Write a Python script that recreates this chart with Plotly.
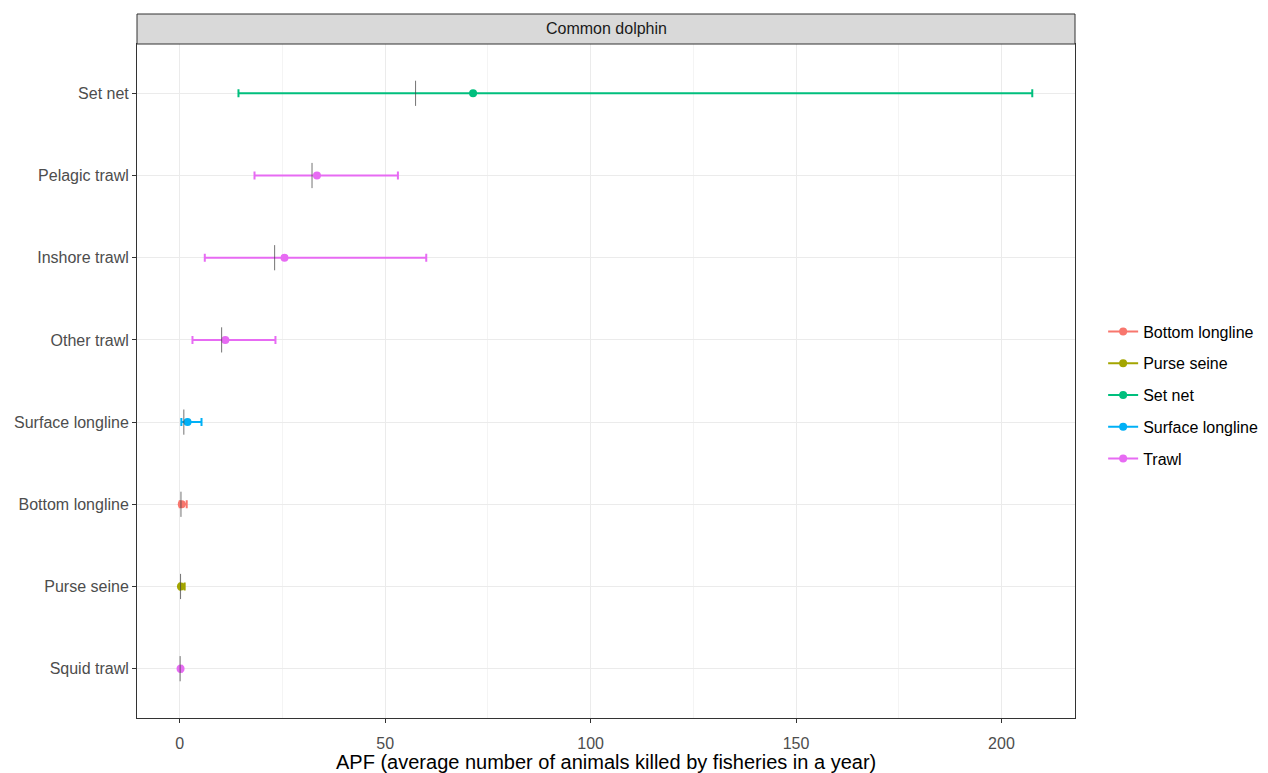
import plotly.graph_objects as go

fishery = ["Set net", "Pelagic trawl", "Inshore trawl", "Other trawl",
           "Surface longline", "Bottom longline", "Purse seine", "Squid trawl"]
gear = ["Set net", "Trawl", "Trawl", "Trawl",
        "Surface longline", "Bottom longline", "Purse seine", "Trawl"]
apf_mean = [71.4, 33.4, 25.5, 11.1, 1.9, 0.5, 0.3, 0.2]
apf_median = [57.4, 32.2, 23.1, 10.2, 1.0, 0.3, 0.2, 0.1]
apf_lower = [14.3, 18.2, 6.1, 3.1, 0.4, 0.0, 0.0, 0.0]
apf_upper = [207.5, 53.1, 60.0, 23.3, 5.3, 1.7, 1.2, 0.5]

gear_levels = ["Bottom longline", "Purse seine", "Set net", "Surface longline", "Trawl"]
gear_colors = {"Bottom longline": "#F8766D", "Purse seine": "#A3A500",
               "Set net": "#00BF7D", "Surface longline": "#00B0F6", "Trawl": "#E76BF3"}

y_order = list(reversed(fishery))  # bottom to top

fig = go.Figure()

for g in gear_levels:
    idx = [i for i, gg in enumerate(gear) if gg == g]
    xs = [apf_mean[i] for i in idx]
    ys = [fishery[i] for i in idx]
    plus = [apf_upper[i] - apf_mean[i] for i in idx]
    minus = [apf_mean[i] - apf_lower[i] for i in idx]
    c = gear_colors[g]
    fig.add_trace(go.Scatter(
        x=xs, y=ys, mode="markers", name=g, legendgroup=g, showlegend=False,
        marker=dict(color=c, size=8),
        error_x=dict(type="data", symmetric=False, array=plus, arrayminus=minus,
                     color=c, thickness=2, width=4),
    ))
    # legend entry: line + point
    fig.add_trace(go.Scatter(
        x=[None], y=[None], mode="lines+markers", name=g, legendgroup=g,
        line=dict(color=c, width=2), marker=dict(color=c, size=8),
    ))

# median ticks
fig.add_trace(go.Scatter(
    x=apf_median, y=fishery, mode="markers", showlegend=False, hoverinfo="skip",
    marker=dict(symbol="line-ns", size=18,
                line=dict(color="rgba(70,70,70,0.75)", width=1)),
))

axis_font = dict(family="Liberation Sans, Arial, sans-serif", size=16, color="#4D4D4D")
plot_h = 674

fig.update_layout(
    width=1268, height=773,
    margin=dict(l=129, r=201, t=36, b=63, autoexpand=False),
    paper_bgcolor="white", plot_bgcolor="white",
    font=dict(family="Liberation Sans, Arial, sans-serif", size=16, color="black"),
    showlegend=True,
    legend=dict(x=1.03, y=0.5 - 14 / plot_h, xanchor="left", yanchor="middle",
                font=dict(size=16, color="black"), tracegroupgap=8,
                itemwidth=30, bgcolor="rgba(0,0,0,0)"),
    xaxis=dict(
        range=[-10.4, 217.9], tickvals=[0, 50, 100, 150, 200],
        ticktext=["0", "50", "100", "150", "200"],
        showgrid=True, gridcolor="#EBEBEB", gridwidth=1,
        minor=dict(tickvals=[25, 75, 125, 175], showgrid=True,
                   gridcolor="#F4F4F4", gridwidth=0.6),
        zeroline=False, showline=True, linecolor="#333333", linewidth=1, mirror=True,
        ticks="outside", ticklen=4, tickcolor="#333333", tickfont=axis_font,
        ticklabelstandoff=7, automargin=False,
    ),
    yaxis=dict(
        type="category", categoryorder="array", categoryarray=y_order,
        range=[-0.6, 7.6],
        showgrid=True, gridcolor="#EBEBEB", gridwidth=1,
        zeroline=False, showline=True, linecolor="#333333", linewidth=1, mirror=True,
        ticks="outside", ticklen=4, tickcolor="#333333", tickfont=axis_font,
        automargin=False,
    ),
)

# x-axis title
fig.add_annotation(xref="paper", yref="paper", x=0.5, y=-(762 - 718) / plot_h,
                   text="APF (average number of animals killed by fisheries in a year)",
                   showarrow=False, font=dict(size=20, color="black"),
                   xanchor="center", yanchor="middle")

# facet strip
strip_h = 30 / plot_h
fig.add_shape(type="rect", xref="paper", yref="paper", x0=0, x1=1, y0=1, y1=1 + strip_h,
              fillcolor="#D9D9D9", line=dict(color="#333333", width=1), layer="above")
fig.add_annotation(xref="paper", yref="paper", x=0.5, y=1 + strip_h / 2,
                   text="Common dolphin", showarrow=False,
                   font=dict(size=16, color="#1A1A1A"), xanchor="center", yanchor="middle")

fig.write_html("out.html")
